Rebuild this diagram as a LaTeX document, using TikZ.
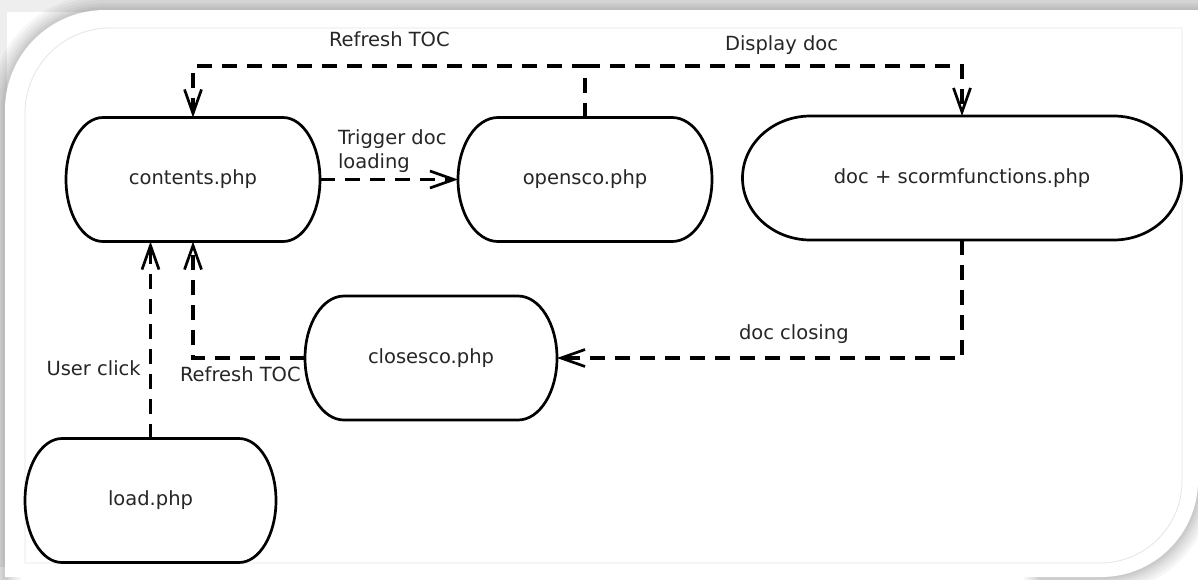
\documentclass[tikz,border=0pt]{standalone}
\usepackage{fontspec}
\setmainfont{DejaVu Sans}
\usetikzlibrary{arrows.meta,calc}

% Outline of a terminal box: flat top and bottom, half-elliptic ends
% #1 = node name, #2 = horizontal radius of the ends (pt); half height is 62pt
\newcommand\stadiumoutline[2]{%
  \draw[termline]
    ([xshift=#2pt]#1.north west) -- ([xshift=-#2pt]#1.north east)
    .. controls ([xshift=-0.4477*#2pt]#1.north east) and ([yshift=34.2pt]#1.east) .. (#1.east)
    .. controls ([yshift=-34.2pt]#1.east) and ([xshift=-0.4477*#2pt]#1.south east) .. ([xshift=-#2pt]#1.south east)
    -- ([xshift=#2pt]#1.south west)
    .. controls ([xshift=0.4477*#2pt]#1.south west) and ([yshift=-34.2pt]#1.west) .. (#1.west)
    .. controls ([yshift=34.2pt]#1.west) and ([xshift=0.4477*#2pt]#1.north west) .. ([xshift=#2pt]#1.north west)
    -- cycle;}

\tikzset{
  term/.style={minimum width=#1, minimum height=124pt, inner sep=0pt, outer sep=0pt,
    text=black!85, font=\fontsize{19.5}{24}\selectfont},
  termline/.style={line width=2.7pt, black, line join=round},
  conn/.style={line width=3.3pt, dash pattern=on 15pt off 10pt, black},
  arrowend/.style={-{Straight Barb[length=24pt, width=17pt, line width=2.7pt]}},
  lbl/.style={inner sep=0pt, outer sep=0pt, text=black!85,
    font=\fontsize{19.5}{24}\selectfont, anchor=base west},
  shade line/.style={line width=#1, black, opacity=0.035},
}

% sheet of paper with two rounded corners
\def\paperpath{(5,110) .. controls (5,54.8) and (49.8,10) .. (105,10) -- (1198,10)
  -- (1198,480) .. controls (1198,533.6) and (1154.6,577) .. (1101,577) -- (5,577) -- cycle}
% edges of the sheet that cast a shadow
\def\topleftedge{(5,585) -- (5,110) .. controls (5,54.8) and (49.8,10) .. (105,10) -- (1210,10)}
\def\brcorner{(1198,420) -- (1198,480) .. controls (1198,533.6) and (1154.6,577) .. (1101,577) -- (1040,577)}
\def\innerpath{(25,113) .. controls (25,66.1) and (63.1,28) .. (110,28) -- (1182,28)
  -- (1182,481) .. controls (1182,526.3) and (1145.3,563) .. (1100,563) -- (25,563) -- cycle}

\begin{document}
\begin{tikzpicture}[x=1pt, y=-1pt]
  \useasboundingbox (0,0) rectangle (1198,579);
  \clip (0,0) rectangle (1198,579);

  % background, soft shadow and paper
  \fill[white] (0,0) rectangle (1198,579);
  \fill[gray!13] (0,0) rectangle (1198,12);
  \fill[gray!13] (0,0) rectangle (7,567);
  \foreach \w in {32,26,20,14,9,5}{
    \draw[shade line=\w pt] \topleftedge;
    \draw[shade line=\w pt, line cap=round] \brcorner;
  }
  \fill[white] \paperpath;
  \draw[black!10, line width=0.8pt] \innerpath;

  % boxes
  \node[term=254pt] (contents) at (193,179.5) {contents.php};
  \node[term=254pt] (opensco)  at (585,179.5) {opensco.php};
  \node[term=439pt] (doc)      at (962,178)   {doc + scormfunctions.php};
  \node[term=252pt] (closesco) at (431,358)   {closesco.php};
  \node[term=251pt] (load)     at (150.5,500.5) {load.php};

  \stadiumoutline{contents}{37}
  \stadiumoutline{opensco}{40}
  \stadiumoutline{doc}{68}
  \stadiumoutline{closesco}{39}
  \stadiumoutline{load}{37}

  % connectors
  \coordinate (split) at (585,66);
  \draw[conn,arrowend] (opensco.north) -- (split) -| (contents.north);
  \draw[conn,arrowend] (split) -| (doc.north);
  \draw[conn,arrowend] (contents.east) -- (opensco.west);
  \draw[conn,arrowend] (load.north) -- (load.north |- contents.south);
  \draw[conn,arrowend] (closesco.west) -| (contents.south);
  \draw[conn,arrowend] (doc.south) |- (closesco.east);

  % connector labels
  \node[lbl] (reftop) at (329,46.5) {Refresh TOC};
  \node[lbl] (disp)   at (725,50)   {Display doc};
  \node[lbl, anchor=north west, align=left] (trig) at (338,129.5) {Trigger doc\\loading};
  \node[lbl] (uclick) at (46.5,375) {User click};
  \node[lbl] (refbot) at (180,381.5) {Refresh TOC};
  \node[lbl] (dclose) at (739,339.5) {doc closing};
\end{tikzpicture}
\end{document}
